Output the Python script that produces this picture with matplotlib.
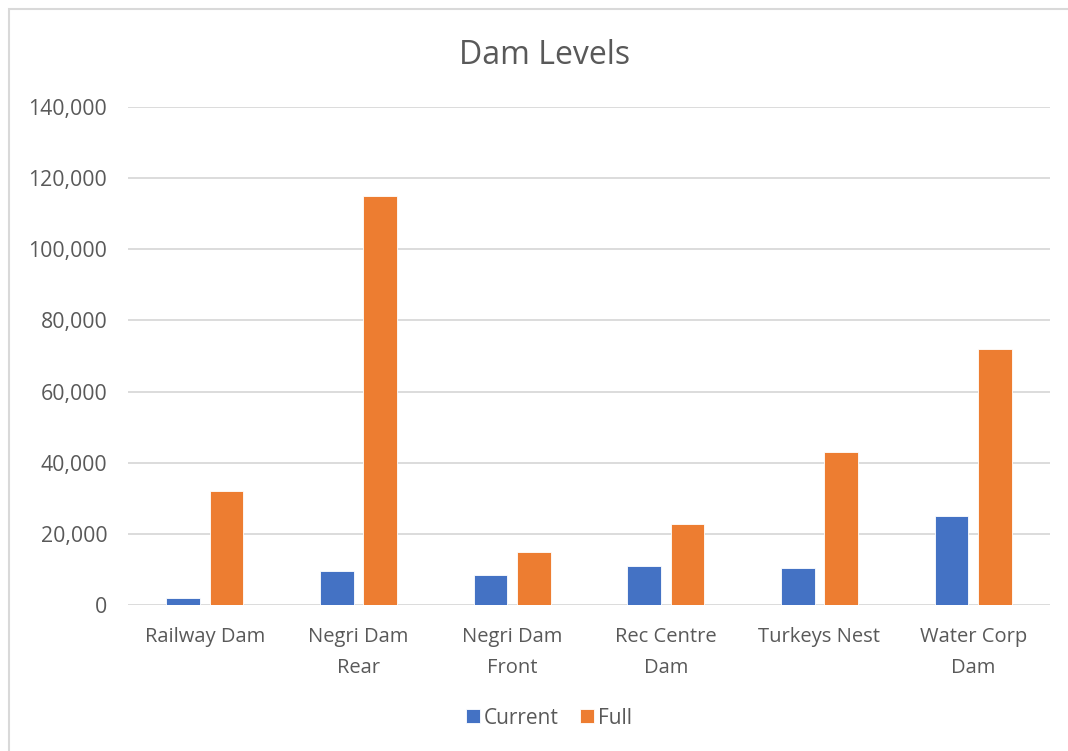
import numpy as np
import matplotlib
matplotlib.use("Agg")
import matplotlib.pyplot as plt
from matplotlib.patches import Rectangle
from matplotlib.ticker import FuncFormatter

plt.rcParams['font.family'] = ['Open Sans', 'DejaVu Sans']

dams = ["Railway Dam", "Negri Dam\nRear", "Negri Dam\nFront", "Rec Centre\nDam", "Turkeys Nest", "Water Corp\nDam"]
current = [2000, 9500, 8300, 10900, 10500, 25000]
full = [32000, 115000, 15000, 22800, 43000, 72000]
yticks = [0, 20000, 40000, 60000, 80000, 100000, 120000, 140000]

fig = plt.figure(figsize=(10.68, 7.51), dpi=100)
# outer chart frame (left/top visible)
fig.patches.append(Rectangle((9 / 1068, -0.1), 1.2, 1 - 9 / 751 + 0.1, transform=fig.transFigure,
                             fill=False, edgecolor="#d9d9d9", linewidth=1.5))
ax = fig.add_axes([128 / 1068, 1 - 605 / 751, (1050 - 128) / 1068, (605 - 107) / 751])

x = np.arange(len(dams))
w = 0.22
ax.bar(x - 0.141, current, width=w, color="#4472c4", edgecolor="white", linewidth=0.6, label="Current", zorder=3)
ax.bar(x + 0.141, full, width=w, color="#ed7d31", edgecolor="white", linewidth=0.6, label="Full", zorder=3)

ax.set_xlim(-0.5, len(dams) - 0.5)
ax.set_ylim(0, 140000)
ax.set_yticks(yticks)
ax.yaxis.set_major_formatter(FuncFormatter(lambda v, p: f"{int(v):,}"))
ax.grid(axis="y", color="#d9d9d9", linewidth=1.3, zorder=0)
for s in ax.spines.values():
    s.set_visible(False)
ax.tick_params(axis="both", length=0, labelcolor="#595959")
ax.tick_params(axis="y", pad=15, labelsize=15.3)
ax.tick_params(axis="x", pad=16, labelsize=14.5)
ax.set_xticks(x)
ax.set_xticklabels(dams, linespacing=1.72)

fig.text(545 / 1068, 1 - 56 / 751, "Dam Levels", ha="center", va="center", fontsize=23, color="#595959")
fig.legend(loc="center", bbox_to_anchor=(549 / 1068, 1 - 718 / 751), ncol=2, frameon=False, fontsize=15,
           handlelength=0.67, handleheight=0.67, handletextpad=0.2, columnspacing=1.0,
           labelcolor="#595959")

fig.savefig("out.png", dpi=100)
